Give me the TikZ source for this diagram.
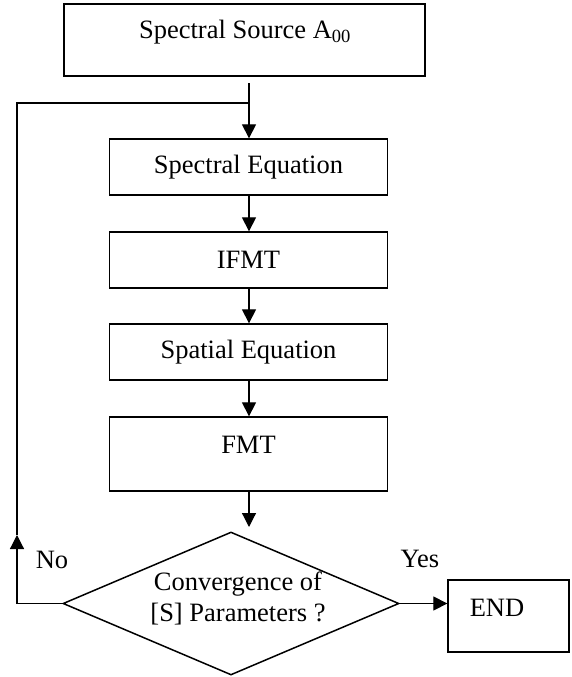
\documentclass[tikz,border=0pt]{standalone}
\usepackage{fontspec}
\setmainfont{Liberation Serif}
\usetikzlibrary{arrows.meta,shapes.geometric}
\begin{document}
\begin{tikzpicture}[x=1pt,y=-1pt,
  font=\fontsize{26.5}{31}\selectfont,
  box/.style={draw,line width=1.3pt,inner sep=0pt},
  txt/.style={inner sep=0pt,anchor=center},
  arr/.style={line width=1.2pt,-{Triangle[length=14pt,width=14pt]}},
  ln/.style={line width=1.2pt}]
\useasboundingbox (0,0) rectangle (572,677);
% boxes
\node[box,line width=1.6pt,minimum width=361pt,minimum height=72pt] (src) at (244.5,40) {};
\node[txt] (srct) at (245,32) {Spectral Source A\textsubscript{00}};
\node[box,minimum width=278pt,minimum height=56pt] (speq) at (248.5,167) {Spectral Equation};
\node[box,minimum width=278pt,minimum height=56pt] (ifmt) at (248.5,260) {IFMT};
\node[box,minimum width=278pt,minimum height=56pt] (spat) at (248.5,352) {Spatial Equation};
\node[box,minimum width=278pt,minimum height=74pt] (fmt) at (248.5,454) {};
\node[txt] (fmtt) at (248.5,445) {FMT};
\node[draw,diamond,line width=1.5pt,minimum width=336pt,minimum height=143pt,inner sep=0pt] (dia) at (231,603.5) {};
\node[txt,align=center,font=\fontsize{26.5}{31}\selectfont] (diat) at (238,598) {Convergence of\\{[S]} Parameters ?};
\node[box,minimum width=121pt,minimum height=72pt] (end) at (508.5,616) {};
\node[txt] (endt) at (497,608) {END};
\node[txt] (no) at (52,560) {No};
\node[txt] (yes) at (420,559) {Yes};
% coordinates
\coordinate (t) at (249,83);
\coordinate (jn) at (249,103);
\coordinate (lp) at (17,535);
\coordinate (fe) at (249,527);
% connectors
\draw[ln] (t) -- (jn);
\draw[arr] (jn) -- (speq.north -| jn);
\draw[arr] (ifmt.north -| jn) ++(0,-37) -- (ifmt.north -| jn);
\draw[arr] (spat.north -| jn) ++(0,-36) -- (spat.north -| jn);
\draw[arr] (fmt.north -| jn) ++(0,-37) -- (fmt.north -| jn);
\draw[arr] (fmt.south -| jn) -- (fe);
\draw[arr] (dia.west) -| (lp);
\draw[ln] (lp) |- (jn);
\draw[arr] (dia.east) -- (dia.east -| end.west);
\end{tikzpicture}
\end{document}
